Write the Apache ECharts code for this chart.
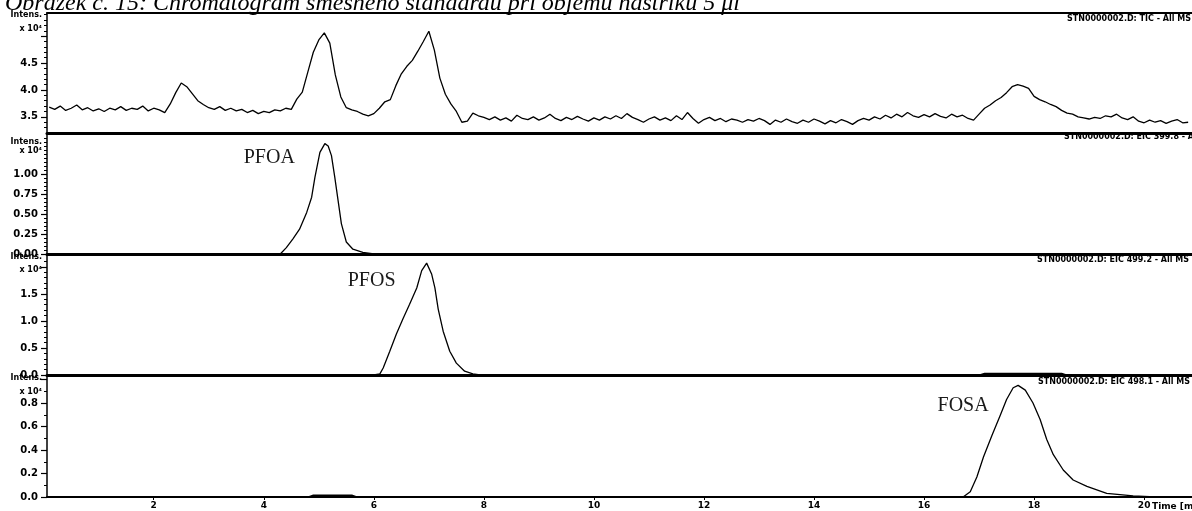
<!DOCTYPE html>
<html><head><meta charset="utf-8">
<script src="https://cdn.jsdelivr.net/npm/echarts@6/dist/echarts.min.js"></script>
<style>html,body{margin:0;padding:0;background:#fff}#c{width:1192px;height:511px}</style>
</head><body><div id="c"></div>
<script>
// ---------- texts ----------
const figureTitle = "Obrázek č. 15: Chromatogram směsného standardu při objemu nástřiku 5 μl";
const traceTitles = [
  "STN0000002.D: TIC - All MS",
  "STN0000002.D: EIC 399.8 - All MS",
  "STN0000002.D: EIC 499.2 - All MS",
  "STN0000002.D: EIC 498.1 - All MS"
];
const peakNames = ["PFOA", "PFOS", "FOSA"];
const peakLabelTime = [4.1, 5.96, 16.71];
const peakLabelValue = [1.2, 1.74, 0.78];
const yName = "Intens.\nx 10⁴";
const xName = "Time [min]";

// ---------- x axis ----------
const timeMin = 0.06, timeMax = 20.87;
const timeTicks = [2, 4, 6, 8, 10, 12, 14, 16, 18, 20];

// ---------- TIC (x10^4), sampled every 0.1 min from 0.1 min ----------
const ticStart = 0.1, ticStep = 0.1;
const ticValues = [
  3.68,3.64,3.70,3.62,3.66,3.72,3.63,3.67,3.61,3.65,
  3.60,3.66,3.63,3.69,3.62,3.66,3.64,3.70,3.61,3.66,
  3.63,3.58,3.74,3.95,4.13,4.06,3.93,3.80,3.73,3.67,
  3.64,3.69,3.62,3.66,3.61,3.64,3.58,3.62,3.56,3.60,
  3.58,3.63,3.61,3.66,3.64,3.83,3.96,4.33,4.70,4.93,
  5.06,4.87,4.28,3.87,3.67,3.63,3.60,3.55,3.52,3.56,
  3.66,3.78,3.82,4.08,4.30,4.44,4.55,4.72,4.90,5.09,
  4.74,4.22,3.92,3.74,3.60,3.40,3.42,3.57,3.52,3.49,
  3.45,3.50,3.44,3.48,3.42,3.53,3.47,3.45,3.50,3.44,
  3.48,3.55,3.47,3.43,3.49,3.45,3.51,3.46,3.42,3.48,
  3.44,3.50,3.46,3.52,3.47,3.56,3.49,3.45,3.40,3.46,
  3.50,3.44,3.48,3.43,3.52,3.45,3.58,3.47,3.38,3.45,
  3.49,3.43,3.47,3.41,3.46,3.44,3.40,3.45,3.42,3.47,
  3.43,3.36,3.44,3.40,3.46,3.41,3.38,3.44,3.40,3.46,
  3.42,3.37,3.43,3.39,3.45,3.41,3.36,3.43,3.47,3.44,
  3.50,3.46,3.53,3.48,3.55,3.50,3.58,3.52,3.49,3.54,
  3.50,3.56,3.51,3.48,3.55,3.50,3.53,3.47,3.44,3.55,
  3.66,3.72,3.80,3.86,3.95,4.06,4.10,4.07,4.03,3.88,
  3.82,3.78,3.73,3.69,3.62,3.57,3.55,3.50,3.48,3.46,
  3.49,3.47,3.52,3.50,3.55,3.48,3.45,3.50,3.42,3.39,
  3.44,3.40,3.43,3.38,3.42,3.45,3.39,3.40
];

// ---------- EIC traces (x10^4) ----------
const pfoaTime  = [0.06, 1.5, 3.0, 4.3, 4.41, 4.53, 4.65, 4.78, 4.87, 4.93, 5.02, 5.11, 5.17, 5.23, 5.29, 5.35, 5.41, 5.5, 5.62, 5.8, 6.0, 20.87];
const pfoaValue = [0, 0, 0, 0, 0.08, 0.19, 0.31, 0.52, 0.71, 0.96, 1.27, 1.38, 1.35, 1.23, 0.96, 0.67, 0.38, 0.15, 0.06, 0.02, 0, 0];

const pfosTime  = [0.06, 3.0, 6.0, 6.11, 6.17, 6.29, 6.41, 6.53, 6.65, 6.78, 6.87, 6.96, 7.05, 7.11, 7.17, 7.26, 7.38, 7.5, 7.65, 7.8, 7.93, 17.0, 17.1, 18.5, 18.6, 20.87];
const pfosValue = [0, 0, 0, 0.02, 0.13, 0.44, 0.76, 1.04, 1.31, 1.61, 1.93, 2.07, 1.87, 1.61, 1.22, 0.81, 0.44, 0.22, 0.07, 0.02, 0, 0, 0.03, 0.03, 0, 0];

const fosaTime  = [0.06, 2.0, 4.8, 4.9, 5.6, 5.7, 16.71, 16.84, 16.96, 17.08, 17.23, 17.38, 17.5, 17.62, 17.71, 17.84, 17.98, 18.11, 18.23, 18.35, 18.53, 18.71, 18.96, 19.32, 19.8, 20.2, 20.87];
const fosaValue = [0, 0, 0, 0.015, 0.015, 0, 0, 0.045, 0.17, 0.34, 0.52, 0.69, 0.83, 0.93, 0.95, 0.91, 0.80, 0.66, 0.49, 0.36, 0.23, 0.145, 0.09, 0.03, 0.01, 0, 0];

// ---------- y axes: ranges and ticks ----------
const yMin = [3.2, 0, 0, 0];
const yMax = [5.43, 1.5, 2.22, 1.03];
const yLabels = [
  [3.5, 4.0, 4.5],
  [0, 0.25, 0.5, 0.75, 1.0],
  [0, 0.5, 1.0, 1.5],
  [0, 0.2, 0.4, 0.6, 0.8]
];
const yMajor = [
  [3.5, 4.0, 4.5, 5.0],
  [0, 0.25, 0.5, 0.75, 1.0],
  [0, 0.5, 1.0, 1.5, 2.0],
  [0, 0.2, 0.4, 0.6, 0.8, 1.0]
];
const yMinor = [
  [3.3, 3.4, 3.6, 3.7, 3.8, 3.9, 4.1, 4.2, 4.3, 4.4, 4.6, 4.7, 4.8, 4.9, 5.1, 5.2, 5.3, 5.4],
  [0.05, 0.1, 0.15, 0.2, 0.3, 0.35, 0.4, 0.45, 0.55, 0.6, 0.65, 0.7, 0.8, 0.85, 0.9, 0.95, 1.05, 1.1, 1.15, 1.2, 1.25, 1.3, 1.35, 1.4, 1.45],
  [0.1, 0.2, 0.3, 0.4, 0.6, 0.7, 0.8, 0.9, 1.1, 1.2, 1.3, 1.4, 1.6, 1.7, 1.8, 1.9, 2.1],
  [0.1, 0.3, 0.5, 0.7, 0.9]
];
const yDecimals = [1, 2, 1, 1];

// ---------- layout ----------
const panels = [
  { top: 13,  height: 120, nameGap: 5,  lh: 14 },
  { top: 134, height: 120, nameGap: -3, lh: 9 },
  { top: 255, height: 120, nameGap: 5,  lh: 13 },
  { top: 376, height: 121, nameGap: 5,  lh: 14 }
];
const traceTitlePos = [[1067, 15], [1064, 133], [1037, 256], [1038, 378]];

const smallFont = { fontFamily: 'DejaVu Sans', fontWeight: 'bold', fontSize: 8, color: '#000' };

const grids = panels.map(p => ({ left: 47, right: 0, top: p.top, height: p.height, containLabel: false, outerBoundsMode: 'none' }));

const xAxes = panels.map((p, i) => {
  const bottom = i === 3;
  return {
    type: 'value', gridIndex: i, min: timeMin, max: timeMax, position: 'bottom',
    splitLine: { show: false },
    axisLine: { show: true, onZero: false, lineStyle: { color: '#000', width: bottom ? 2 : 3 } },
    axisTick: bottom ? { show: true, length: 3, customValues: timeTicks, lineStyle: { color: '#000', width: 1 } } : { show: false },
    axisLabel: bottom ? { show: true, customValues: timeTicks, margin: 4, fontFamily: 'DejaVu Sans', fontWeight: 'bold', fontSize: 9, color: '#000', formatter: v => String(Math.round(v)) } : { show: false },
    name: bottom ? xName : '',
    nameLocation: 'end', nameGap: -40, nameMoveOverlap: false,
    nameTextStyle: { fontFamily: 'DejaVu Sans', fontWeight: 'bold', fontSize: 9, color: '#000', align: 'left', verticalAlign: 'top', padding: [5, 0, 0, 0] }
  };
});
xAxes.push({
  type: 'value', gridIndex: 0, min: timeMin, max: timeMax, position: 'top',
  splitLine: { show: false }, axisTick: { show: false }, axisLabel: { show: false },
  axisLine: { show: true, onZero: false, lineStyle: { color: '#000', width: 2 } }
});

const yAxes = [];
panels.forEach((p, i) => {
  yAxes.push({
    type: 'value', gridIndex: i, min: yMin[i], max: yMax[i], position: 'left',
    splitLine: { show: false },
    axisLine: { show: true, onZero: false, lineStyle: { color: '#000', width: 1.5 } },
    axisTick: { show: true, length: 6, customValues: yMajor[i], lineStyle: { color: '#000', width: 1.2 } },
    axisLabel: { show: true, customValues: yLabels[i], margin: 9, fontFamily: 'DejaVu Sans', fontWeight: 'bold', fontSize: 10, color: '#000',
      formatter: v => Number(v).toFixed(yDecimals[i]) },
    name: yName, nameLocation: 'end', nameGap: p.nameGap, nameMoveOverlap: false,
    nameTextStyle: { fontFamily: 'DejaVu Sans', fontWeight: 'bold', fontSize: 8, color: '#000', align: 'right', verticalAlign: 'top', lineHeight: p.lh, padding: [0, 5, 0, 0] }
  });
  yAxes.push({
    type: 'value', gridIndex: i, min: yMin[i], max: yMax[i], position: 'left',
    splitLine: { show: false }, axisLine: { show: false }, axisLabel: { show: false },
    axisTick: { show: true, length: 3, customValues: yMinor[i], lineStyle: { color: '#000', width: 1 } }
  });
});

const ticData = ticValues.map((v, k) => [Math.round((ticStart + k * ticStep) * 100) / 100, v]);
const pairs = (t, v) => t.map((x, k) => [x, v[k]]);
const traceData = [ticData, pairs(pfoaTime, pfoaValue), pairs(pfosTime, pfosValue), pairs(fosaTime, fosaValue)];

const series = traceData.map((d, i) => {
  const s = {
    type: 'line', xAxisIndex: i, yAxisIndex: i * 2, data: d,
    showSymbol: false, symbol: 'none', clip: true,
    lineStyle: { color: '#000', width: 1.3 }
  };
  if (i > 0) {
    s.markPoint = {
      symbol: 'circle', symbolSize: 1, itemStyle: { color: 'rgba(0,0,0,0)' },
      label: { show: true, position: 'inside', formatter: peakNames[i - 1], fontFamily: 'Liberation Serif', fontSize: 20, color: '#1a1a1a' },
      data: [{ coord: [peakLabelTime[i - 1], peakLabelValue[i - 1]] }]
    };
  }
  return s;
});

const titles = [{
  text: figureTitle, left: 0, top: -13,
  textStyle: { fontFamily: 'Liberation Serif', fontStyle: 'italic', fontWeight: 'normal', fontSize: 24, color: '#000' }
}].concat(traceTitles.map((t, i) => ({
  text: t, left: traceTitlePos[i][0], top: traceTitlePos[i][1], padding: 0,
  textStyle: smallFont
})));

const chart = echarts.init(document.getElementById('c'), null, { renderer: 'canvas' });
chart.setOption({
  animation: false,
  backgroundColor: '#fff',
  title: titles,
  grid: grids,
  xAxis: xAxes,
  yAxis: yAxes,
  series: series
});
</script>
</body></html>
